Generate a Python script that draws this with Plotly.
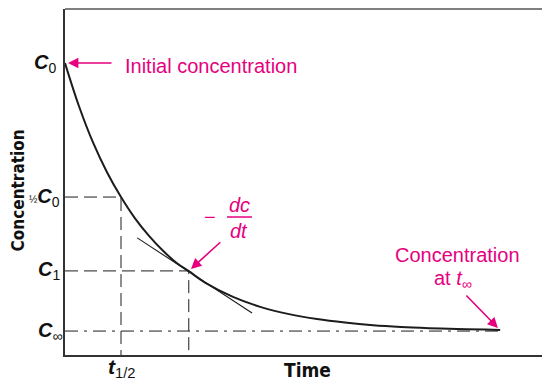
import plotly.graph_objects as go

# ---- data (time in units of t1/2, concentration in units of C0) ----
time = [0, 0.25, 0.5, 0.75, 1.0, 1.25, 1.5, 1.75, 2.0, 2.21, 2.5, 3.0, 3.5, 4.0, 4.5,
        5.0, 5.5, 6.0, 6.5, 7.0, 7.5, 7.77]
conc = [1.000, 0.852, 0.728, 0.626, 0.541, 0.468, 0.408, 0.357, 0.314, 0.287, 0.248,
        0.199, 0.164, 0.140, 0.123, 0.111, 0.102, 0.096, 0.092, 0.089, 0.087, 0.086]
tangent_t = [1.29, 3.34]
tangent_c = [0.401, 0.144]

C0 = 1.0
C_HALF = 0.541
C1 = 0.288
C_INF = 0.082
T_HALF = 1.0
T1 = 2.21
T_END = 7.77

X_MAX = 8.66
Y_MAX = 1.185

MAGENTA = "#E6007E"
INK = "#1c1c1c"
DASH = "13px,6px"
TXT_FONT = "Liberation Sans, Arial, sans-serif"
LAB_FONT = "Liberation Sans Narrow, Arial Narrow, DejaVu Sans Condensed, Liberation Sans, sans-serif"

fig = go.Figure()

# guide lines
fig.add_trace(go.Scatter(x=[0, T_HALF, T_HALF], y=[C_HALF, C_HALF, 0], mode="lines",
                         line=dict(color=INK, width=1, dash=DASH), hoverinfo="skip"))
fig.add_trace(go.Scatter(x=[0, T1, T1], y=[C1, C1, 0], mode="lines",
                         line=dict(color=INK, width=1, dash=DASH), hoverinfo="skip"))
fig.add_trace(go.Scatter(x=[0, T_END], y=[C_INF, C_INF], mode="lines",
                         line=dict(color=INK, width=1, dash="13px,6px,3px,6px"), hoverinfo="skip"))
# tangent
fig.add_trace(go.Scatter(x=tangent_t, y=tangent_c, mode="lines",
                         line=dict(color=INK, width=1.1), hoverinfo="skip"))
# decay curve
fig.add_trace(go.Scatter(x=time, y=conc, mode="lines", line=dict(color=INK, width=2, shape="spline"),
                         hoverinfo="skip"))

ann = []
# y tick labels
ylabels = [
    (C0, "<b><i>C</i></b><sub>0</sub>", -7),
    (C_HALF, "<span style='font-size:10px'>½</span><b><i>C</i></b><sub>0</sub>", -3),
    (C1, "<b><i>C</i></b><sub>1</sub>", -3),
    (C_INF, "<b><i>C</i></b><sub>∞</sub>", -1),
]
for yv, txt, xs in ylabels:
    ann.append(dict(xref="paper", yref="y", x=0, y=yv, text=txt, showarrow=False,
                    xanchor="right", yanchor="middle", xshift=xs,
                    font=dict(family=TXT_FONT, size=20, color="#111")))
# x tick label
ann.append(dict(xref="x", yref="paper", x=T_HALF, y=0, text="<b><i>t</i></b><sub>1/2</sub>",
                showarrow=False, xanchor="center", yanchor="top", yshift=2,
                font=dict(family=TXT_FONT, size=21, color="#111")))
# axis titles
ann.append(dict(xref="paper", yref="paper", x=0.501, y=-0.043, text="<b>Time</b>", showarrow=False,
                xanchor="center", yanchor="middle", font=dict(family=LAB_FONT, size=19, color="#111")))
ann.append(dict(xref="paper", yref="paper", x=-0.098, y=0.477, text="<b>Concentration</b>",
                showarrow=False, textangle=-90, xanchor="center", yanchor="middle",
                font=dict(family=LAB_FONT, size=17, color="#111")))

# magenta arrows
arrow = dict(showarrow=True, arrowhead=2, arrowsize=1.3, arrowwidth=1.6, arrowcolor=MAGENTA, text="")
ann.append(dict(xref="x", yref="y", x=0, y=C0, ax=48, ay=0, standoff=3, **arrow))
ann.append(dict(xref="x", yref="y", x=T1, y=C1, ax=33, ay=-30, standoff=3, **arrow))
ann.append(dict(xref="x", yref="y", x=7.73, y=0.0925, ax=-33, ay=-34, standoff=0, **arrow))

# magenta texts
mfont = dict(family=TXT_FONT, size=20, color=MAGENTA)
ann.append(dict(xref="x", yref="y", x=1.036, y=0.990, text="Initial concentration", showarrow=False,
                xanchor="left", yanchor="middle", font=mfont))
ann.append(dict(xref="x", yref="y", x=2.589, y=0.4726, text="−", showarrow=False,
                xanchor="center", yanchor="middle", font=mfont))
ann.append(dict(xref="x", yref="y", x=3.107, y=0.514, text="<i>dc</i>", showarrow=False,
                xanchor="center", yanchor="middle", font=mfont))
ann.append(dict(xref="x", yref="y", x=3.107, y=0.425, text="<i>dt</i>", showarrow=False,
                xanchor="center", yanchor="middle", font=mfont))
ann.append(dict(xref="x", yref="y", x=7.0, y=0.342, text="Concentration", showarrow=False,
                xanchor="center", yanchor="middle", font=mfont))
ann.append(dict(xref="x", yref="y", x=6.93, y=0.260, text="at <i>t</i><sub>∞</sub>", showarrow=False,
                xanchor="center", yanchor="middle", font=mfont))

shapes = [
    dict(type="line", xref="paper", yref="paper", x0=0, x1=1, y0=1, y1=1,
         line=dict(color="#555", width=1.5)),
    dict(type="line", xref="x", yref="y", x0=2.893, x1=3.339, y0=0.4726, y1=0.4726,
         line=dict(color=MAGENTA, width=1.5)),
]

# the page body adds an 8px margin, so the figure is sized to fit the 550x380 window
fig.update_layout(
    width=542, height=372,
    margin=dict(l=57, r=0, t=1, b=25, pad=0),
    paper_bgcolor="white", plot_bgcolor="white",
    showlegend=False,
    annotations=ann, shapes=shapes,
    xaxis=dict(range=[0, X_MAX], showline=True, linecolor="#333", linewidth=1.5,
               showgrid=False, zeroline=False, showticklabels=False, ticks=""),
    yaxis=dict(range=[0, Y_MAX], showline=True, linecolor="#333", linewidth=2,
               showgrid=False, zeroline=False, showticklabels=False, ticks=""),
)

fig.write_html("out.html")
